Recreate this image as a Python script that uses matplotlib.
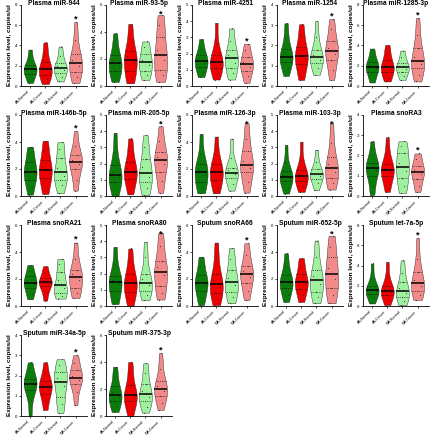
import numpy as np
import matplotlib
matplotlib.use('Agg')
import matplotlib.pyplot as plt

plt.rcParams['font.family'] = ['Liberation Sans', 'DejaVu Sans']

groups = ['AA-Normal', 'AA-Cancer', 'WA-Normal', 'WA-Cancer']
colors = ['#0a7d0a', '#f00000', '#9ff09f', '#f28a8a']

titles = ['Plasma miR-944', 'Plasma miR-93-5p', 'Plasma miR-4251', 'Plasma miR-1254',
          'Plasma miR-1285-3p', 'Plasma miR-146b-5p', 'Plasma miR-205-5p',
          'Plasma miR-126-3p', 'Plasma miR-103-3p', 'Plasma snoRA3',
          'Plasma snoRA21', 'Plasma snoRA80', 'Sputum snoRA66', 'Sputum miR-652-5p',
          'Sputum let-7a-5p', 'Sputum miR-34a-5p', 'Sputum miR-375-3p']
y_max = [8, 6, 5, 4, 8, 6, 5, 6, 5, 4, 6, 5, 6, 6, 8, 4, 6]
y_step = [2, 2, 1, 1, 2, 2, 1, 2, 1, 1, 2, 1, 2, 2, 2, 1, 2]
star_group = [3] * 17

# per-group values (AA-Normal, AA-Cancer, WA-Normal, WA-Cancer)
mir944 = [[0.3, 0.8, 1.2, 1.5, 1.65, 1.8, 2.1, 2.7, 3.6],
          [0.2, 0.7, 1.1, 1.45, 1.65, 1.9, 2.4, 3.3, 4.3],
          [0.45, 0.9, 1.3, 1.6, 1.75, 1.95, 2.3, 3.0, 3.9],
          [0.3, 0.9, 1.4, 2.0, 2.3, 2.6, 3.2, 4.5, 6.3]]
mir93 = [[0.3, 0.7, 1.1, 1.45, 1.7, 1.9, 2.3, 3.0, 3.9],
         [0.2, 0.6, 1.1, 1.7, 1.95, 2.2, 2.6, 3.5, 4.6],
         [0.45, 0.8, 1.1, 1.55, 1.75, 1.95, 2.4, 2.9, 3.3],
         [0.3, 0.8, 1.2, 1.9, 2.3, 2.7, 3.6, 4.5, 5.25]]
mir4251 = [[0.55, 0.85, 1.15, 1.4, 1.55, 1.7, 1.9, 2.3, 2.9],
           [0.4, 0.8, 1.1, 1.35, 1.5, 1.65, 1.9, 2.6, 3.9],
           [0.4, 0.8, 1.1, 1.45, 1.7, 1.9, 2.2, 2.8, 3.55],
           [0.2, 0.6, 0.95, 1.2, 1.35, 1.5, 1.8, 2.2, 2.6]]
mir1254 = [[0.5, 0.9, 1.2, 1.35, 1.45, 1.6, 1.85, 2.4, 3.1],
           [0.3, 0.7, 1.1, 1.35, 1.5, 1.65, 1.95, 2.5, 3.05],
           [0.55, 0.9, 1.15, 1.3, 1.42, 1.55, 1.8, 2.4, 3.2],
           [0.3, 0.8, 1.3, 1.6, 1.73, 1.9, 2.2, 2.8, 3.3]]
mir1285 = [[0.35, 0.9, 1.4, 1.75, 1.9, 2.05, 2.4, 3.0, 3.7],
           [0.45, 0.9, 1.35, 1.7, 1.9, 2.1, 2.6, 3.3, 4.05],
           [0.6, 1.0, 1.4, 1.7, 1.85, 2.0, 2.3, 2.9, 3.5],
           [0.45, 1.1, 1.75, 2.2, 2.5, 2.9, 3.8, 5.0, 6.7]]
mir146b = [[0.1, 0.7, 1.2, 1.6, 1.8, 2.0, 2.5, 3.1, 3.65],
           [0.15, 0.7, 1.3, 1.7, 1.93, 2.15, 2.7, 3.4, 4.1],
           [0.2, 0.8, 1.2, 1.5, 1.75, 2.1, 2.8, 3.5, 4.0],
           [0.4, 1.2, 2.0, 2.4, 2.55, 2.7, 3.0, 3.7, 4.8]]
mir205 = [[0.02, 0.45, 0.85, 1.15, 1.3, 1.5, 1.9, 2.7, 3.9],
          [0.1, 0.6, 1.05, 1.35, 1.5, 1.7, 2.1, 2.8, 3.55],
          [0.06, 0.5, 0.85, 1.2, 1.45, 1.8, 2.3, 3.0, 3.75],
          [0.2, 0.9, 1.5, 2.0, 2.2, 2.4, 2.7, 3.4, 4.3]]
mir126 = [[0.2, 0.6, 1.0, 1.55, 1.8, 2.0, 2.35, 3.1, 4.6],
          [0.2, 0.7, 1.15, 1.55, 1.8, 2.0, 2.4, 3.1, 4.4],
          [0.4, 0.9, 1.3, 1.6, 1.73, 1.9, 2.1, 2.8, 4.25],
          [0.25, 1.0, 1.8, 2.1, 2.3, 2.6, 3.3, 4.2, 5.4]]
mir103 = [[0.15, 0.55, 0.9, 1.1, 1.2, 1.3, 1.55, 2.1, 3.15],
          [0.25, 0.6, 0.95, 1.12, 1.23, 1.35, 1.6, 2.2, 3.35],
          [0.35, 0.8, 1.05, 1.22, 1.34, 1.45, 1.65, 2.1, 2.85],
          [0.4, 0.8, 1.1, 1.5, 1.7, 1.95, 2.4, 3.3, 4.5]]
snora3 = [[0.05, 0.5, 1.0, 1.28, 1.37, 1.45, 1.65, 2.0, 2.7],
          [0.2, 0.6, 1.0, 1.2, 1.28, 1.38, 1.6, 2.1, 2.9],
          [0.15, 0.5, 0.87, 1.25, 1.45, 1.65, 2.1, 2.45, 2.7],
          [0.2, 0.5, 0.85, 1.08, 1.2, 1.3, 1.5, 1.85, 2.1]]
snora21 = [[0.5, 0.9, 1.3, 1.6, 1.73, 1.9, 2.2, 2.6, 3.05],
           [0.4, 1.0, 1.45, 1.65, 1.75, 1.85, 2.05, 2.5, 2.95],
           [0.55, 0.75, 0.95, 1.3, 1.55, 1.9, 2.5, 3.1, 3.5],
           [0.6, 1.0, 1.35, 1.9, 2.17, 2.4, 2.7, 3.5, 4.7]]
snora80 = [[0.12, 0.4, 0.9, 1.35, 1.5, 1.6, 1.85, 2.6, 3.65],
           [0.02, 0.45, 0.88, 1.25, 1.4, 1.6, 2.0, 2.7, 3.55],
           [0.35, 0.7, 0.95, 1.3, 1.45, 1.65, 2.0, 3.0, 3.95],
           [0.4, 0.8, 1.25, 1.9, 2.12, 2.4, 2.8, 3.7, 4.5]]
snora66 = [[0.07, 0.6, 1.1, 1.55, 1.73, 1.9, 2.3, 3.0, 3.65],
           [0.07, 0.5, 1.0, 1.4, 1.63, 1.9, 2.4, 3.5, 4.7],
           [0.2, 0.7, 1.05, 1.55, 1.8, 2.05, 2.7, 3.5, 4.3],
           [0.45, 1.1, 1.7, 2.15, 2.37, 2.6, 3.0, 3.8, 4.65]]
mir652 = [[0.3, 0.8, 1.3, 1.6, 1.75, 1.95, 2.3, 3.0, 3.9],
          [0.3, 0.8, 1.25, 1.6, 1.75, 1.95, 2.35, 3.0, 3.55],
          [0.2, 0.7, 1.05, 1.6, 1.93, 2.2, 2.65, 3.6, 4.85],
          [0.2, 0.8, 1.3, 2.0, 2.37, 2.8, 3.6, 4.4, 5.2]]
let7a = [[0.25, 0.8, 1.2, 1.45, 1.58, 1.7, 2.0, 2.8, 4.2],
         [0.1, 0.6, 1.1, 1.38, 1.5, 1.65, 2.0, 2.9, 4.35],
         [0.1, 0.5, 0.85, 1.3, 1.5, 1.8, 2.4, 3.3, 4.5],
         [0.6, 1.1, 1.45, 2.0, 2.3, 2.6, 3.4, 4.6, 6.7]]
mir34a = [[0.0, 0.8, 1.3, 1.5, 1.57, 1.65, 1.85, 2.2, 2.65],
          [0.3, 0.75, 1.1, 1.35, 1.45, 1.55, 1.75, 2.1, 2.65],
          [0.15, 0.6, 0.95, 1.5, 1.7, 1.9, 2.15, 2.5, 2.8],
          [0.55, 1.2, 1.6, 1.8, 1.9, 2.0, 2.25, 2.6, 3.0]]
mir375 = [[0.3, 0.7, 1.1, 1.4, 1.55, 1.75, 2.2, 2.9, 3.65],
          [0.02, 0.6, 1.1, 1.4, 1.55, 1.75, 2.3, 3.2, 4.0],
          [0.25, 0.7, 1.1, 1.4, 1.6, 1.85, 2.4, 3.2, 3.9],
          [0.45, 1.0, 1.5, 1.85, 2.0, 2.2, 2.6, 3.5, 4.65]]

panel_data = [mir944, mir93, mir4251, mir1254, mir1285, mir146b, mir205, mir126,
              mir103, snora3, snora21, snora80, snora66, mir652, let7a, mir34a, mir375]

# dot offsets inside each violin (fraction of local half width)
jitter = [-0.4, 0.35, -0.15, 0.55, 0.0, -0.55, 0.2, -0.3, 0.4]


def half_width(body, pos, y):
    v = body.get_paths()[0].vertices
    right = v[v[:, 0] >= pos]
    order = np.argsort(right[:, 1])
    return np.interp(y, right[order, 1], right[order, 0]) - pos


def draw_panel(ax, title, data, ymax, ystep, star):
    pos = np.arange(len(groups))
    parts = ax.violinplot(data, positions=pos, widths=0.85, showextrema=False,
                          bw_method=0.55, points=200)
    for body, c in zip(parts['bodies'], colors):
        body.set_facecolor(c)
        body.set_edgecolor('#222222')
        body.set_linewidth(0.3)
        body.set_alpha(1)
    for i, vals in enumerate(data):
        vals = np.asarray(vals)
        body = parts['bodies'][i]
        for q, ls, lw in [(25, ':', 0.5), (75, ':', 0.5), (50, '-', 1.1)]:
            yq = np.percentile(vals, q)
            w = half_width(body, i, yq)
            ax.plot([i - w, i + w], [yq, yq], color='black', ls=ls, lw=lw,
                    solid_capstyle='butt', zorder=3)
        for k, yv in enumerate(vals):
            w = half_width(body, i, yv)
            ax.plot(i + jitter[k % len(jitter)] * w, yv, 'o', ms=0.8,
                    color='#333333', mec='none', zorder=4)
    if star is not None:
        star_y = min(max(data[star]) + 0.04 * ymax, 0.89 * ymax)
        ax.text(star, star_y, '*', ha='center', va='center',
                fontsize=6.5, fontweight='bold')
    ax.set_xlim(-0.6, 3.75)
    ax.set_ylim(0, ymax)
    ax.set_yticks(np.arange(0, ymax + 0.01, ystep))
    ax.set_xticks(pos)
    ax.set_xticklabels(groups, rotation=45, ha='right', fontsize=2.6)
    ax.tick_params(axis='y', labelsize=3.2, length=1.5, width=0.5, pad=1)
    ax.tick_params(axis='x', length=1.5, width=0.5, pad=1)
    for s in ['top', 'right']:
        ax.spines[s].set_visible(False)
    for s in ['left', 'bottom']:
        ax.spines[s].set_linewidth(0.6)
    ax.set_ylabel('Expression level, copies/ul', fontsize=4.6, fontweight='bold',
                  labelpad=2.5)
    ax.text(0.5, 1.02, title, transform=ax.transAxes, ha='center', va='center',
            fontsize=4.8, fontweight='bold')


W, H = 432, 440
row_top = [5, 115, 225, 335]
col_left = [21, 106, 192, 277, 363]
ax_w, ax_h = 66, 81

fig = plt.figure(figsize=(W / 100, H / 100), dpi=100)
for n, title in enumerate(titles):
    r, c = divmod(n, 5)
    ax = fig.add_axes([col_left[c] / W, 1 - (row_top[r] + ax_h) / H, ax_w / W, ax_h / H])
    draw_panel(ax, title, panel_data[n], y_max[n], y_step[n], star_group[n])

fig.savefig('out.png', dpi=100, facecolor='white')
